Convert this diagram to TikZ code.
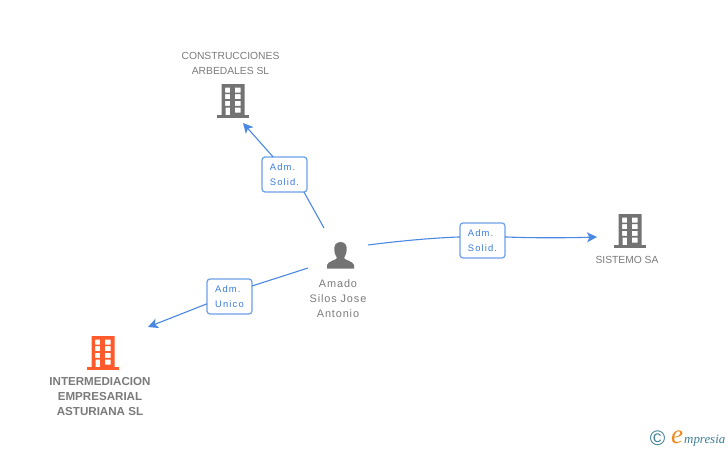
\documentclass[tikz,border=0pt]{standalone}
\usepackage{fontspec}
\setmainfont{Liberation Sans}
\newfontfamily\spacedfont[LetterSpace=8]{Liberation Sans}
\newfontfamily\labfont[LetterSpace=12]{Liberation Sans}
\newfontfamily\logofont{Liberation Serif}
\usetikzlibrary{arrows.meta}
\definecolor{linkblue}{HTML}{4A88E4}
\definecolor{boxblue}{HTML}{6C9FE8}
\definecolor{labblue}{HTML}{3A7CE0}
\definecolor{icongray}{HTML}{737373}
\definecolor{textgray}{HTML}{7A7A7A}
\definecolor{iconorange}{HTML}{FF5A2C}
\definecolor{logoteal}{HTML}{3C7F96}
\definecolor{logoorange}{HTML}{F08A1E}
\tikzset{
  x=1pt,y=-1pt,
  conn/.style={draw=linkblue,line width=1.1pt},
  connarrow/.style={conn,-{Stealth[length=10pt,width=10pt,inset=2.5pt]}},
  rolebox/.style={draw=boxblue,line width=1.2pt,fill=white,rounded corners=3pt,minimum width=45pt,minimum height=35pt,inner sep=0pt,outer sep=0pt,
    text=labblue,align=left,font=\labfont\fontsize{9.4}{15}\selectfont},
  orgname/.style={text=textgray,align=center,inner sep=0pt,font=\fontsize{10.3}{15}\selectfont},
  personname/.style={orgname,font=\spacedfont\fontsize{10.9}{15}\selectfont},
  boldname/.style={orgname,font=\bfseries\fontsize{11.6}{15}\selectfont},
  pics/building/.style={code={
    \fill[#1] (0,31.4) rectangle (32,34);
    \fill[#1,even odd rule]
      (4.7,0) rectangle (27.7,31.5)
      (8,3.5) rectangle (13.2,8.5)  (17.8,3.5) rectangle (23.5,8.5)
      (8,10) rectangle (13.2,15)  (17.8,10) rectangle (23.5,15)
      (8,16.8) rectangle (13.2,21.8)  (17.8,16.8) rectangle (23.5,21.8)
      (8.6,23.5) rectangle (13.2,31.5) (17.8,23.5) rectangle (23.5,28.5);
  }}
}
\begin{document}
\begin{tikzpicture}
\useasboundingbox (0,0) rectangle (728,450);
% free ends
\coordinate (p1) at (324,228);
\coordinate (t1) at (243,123);
\coordinate (p2) at (368,245);
\coordinate (t2) at (597,237);
\coordinate (p3) at (308,268);
\coordinate (t3) at (148,327);
% role boxes
\node[rolebox] (r1) at (284.5,174.5) {Adm.\\Solid.};
\node[rolebox] (r2) at (482.5,240.5) {Adm.\\Solid.};
\node[rolebox] (r3) at (229.5,296.5) {Adm.\\Unico};
% connectors
\draw[conn] (p1) -- (r1.318);
\draw[connarrow] (r1.123) -- (t1);
\draw[conn] (p2) .. controls (395,241.5) and (430,238) .. (r2.171);
\draw[connarrow] (r2.9) .. controls (530,238) and (565,238) .. (t2);
\draw[conn] (p3) -- (r3.25);
\draw[connarrow] (r3.198) -- (t3);
% building icons
\pic at (217,84) {building=icongray};
\pic at (614,214) {building=icongray};
\pic at (87,336) {building=iconorange};
% person icon
\fill[icongray] (340.5,242) .. controls (335.5,242) and (334,246) .. (334.3,250)
  .. controls (334.6,254) and (336,256) .. (337,258)
  .. controls (336.5,260) and (328,261) .. (327,265)
  -- (327,268.5) -- (354,268.5) -- (354,265)
  .. controls (353,261) and (344.5,260) .. (344,258)
  .. controls (345,256) and (346.4,254) .. (346.7,250)
  .. controls (347,246) and (345.5,242) .. (340.5,242) -- cycle;
% names
\node[orgname] (n1) at (230.5,63) {CONSTRUCCIONES\\ARBEDALES SL};
\node[orgname] (n2) at (627,260) {SISTEMO SA};
\node[personname] (n3) at (338,298.4) {Amado\\Silos Jose\\Antonio};
\node[boldname] (n4) at (100,397) {INTERMEDIACION\\EMPRESARIAL\\ASTURIANA SL};
% logo
\node[text=logoteal,inner sep=0pt,font=\fontsize{21}{21}\selectfont] (c) at (657.5,438.5) {\textcopyright};
\node[text=logoorange,inner sep=0pt,font=\logofont\itshape\fontsize{27}{27}\selectfont] (e) at (677,437.5) {e};
\node[text=logoteal,inner sep=0pt,anchor=base west,font=\logofont\itshape\fontsize{12.9}{14}\selectfont] (m) at (684,443) {mpresia};
\end{tikzpicture}
\end{document}
